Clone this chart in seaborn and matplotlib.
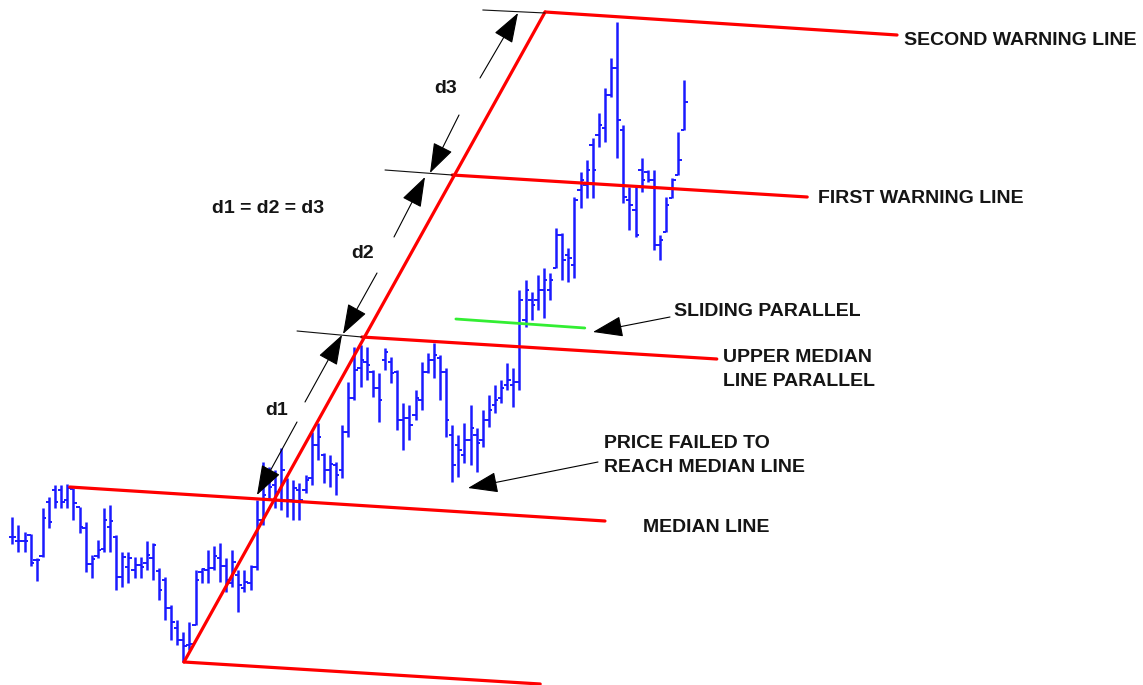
import numpy as np
import pandas as pd
import seaborn as sns
import matplotlib.pyplot as plt

# OHLC bars, one per bar index (price units)
high = [183, 175, 168, 166, 142, 192, 203, 215, 215, 216, 212, 193, 178, 145, 160, 192, 195, 165, 148, 148,
        143, 143, 159, 157, 132, 123, 95, 80, 68, 78, 130, 132, 150, 154, 157, 142, 150, 130, 130, 135,
        200, 238, 233, 230, 252, 222, 220, 217, 225, 268, 277, 247, 245, 238, 275, 318, 353, 355, 353, 330,
        327, 352, 343, 330, 297, 295, 310, 338, 347, 357, 345, 332, 275, 265, 277, 295, 272, 290, 305, 315,
        320, 337, 332, 410, 420, 408, 425, 432, 427, 472, 467, 452, 503, 528, 540, 562, 587, 612, 642, 678,
        575, 513, 513, 542, 530, 530, 465, 503, 522, 568, 620]
low = [156, 148, 148, 134, 119, 143, 172, 192, 192, 192, 180, 167, 128, 122, 142, 148, 148, 110, 113, 117,
       122, 122, 130, 120, 100, 80, 60, 55, 38, 50, 75, 117, 117, 130, 118, 108, 113, 88, 108, 110,
       130, 175, 200, 192, 190, 183, 180, 180, 207, 215, 240, 217, 213, 205, 222, 263, 300, 313, 320, 303,
       278, 330, 317, 270, 250, 260, 280, 290, 327, 322, 300, 263, 218, 223, 237, 235, 228, 253, 273, 287,
       297, 310, 293, 310, 373, 380, 390, 382, 400, 432, 420, 418, 422, 492, 502, 502, 553, 558, 603, 542,
       497, 470, 463, 508, 518, 450, 440, 468, 502, 525, 570]
opens = [163, 159, 159, 165, 140, 144, 198, 210, 210, 200, 211, 193, 172, 136, 144, 151, 173, 163, 123, 133,
         130, 135, 137, 142, 129, 120, 92, 72, 60, 55, 75, 128, 130, 132, 142, 134, 117, 125, 112, 117,
         133, 180, 220, 215, 210, 220, 200, 210, 210, 222, 255, 245, 230, 235, 230, 268, 302, 332, 338, 328,
         312, 340, 338, 328, 280, 282, 285, 300, 328, 340, 342, 328, 265, 255, 245, 260, 265, 260, 280, 295,
         302, 315, 315, 318, 380, 400, 400, 410, 410, 432, 465, 445, 435, 510, 515, 555, 565, 572, 605, 632,
         570, 500, 490, 530, 528, 520, 455, 468, 502, 525, 570]
close = [163, 159, 159, 137, 140, 182, 178, 198, 198, 212, 197, 173, 136, 141, 150, 180, 179, 123, 143, 142,
         135, 133, 145, 155, 110, 92, 78, 60, 54, 56, 120, 131, 132, 144, 134, 120, 138, 115, 118, 133,
         180, 205, 213, 208, 230, 200, 212, 200, 220, 255, 263, 230, 236, 225, 268, 302, 330, 340, 335, 312,
         300, 348, 327, 280, 282, 275, 302, 328, 340, 345, 328, 280, 235, 250, 260, 272, 257, 280, 290, 300,
         312, 320, 318, 400, 410, 395, 410, 420, 420, 465, 440, 442, 500, 520, 530, 530, 575, 605, 632, 580,
         503, 495, 465, 520, 520, 455, 460, 495, 520, 540, 598]

# pitchfork: handle, lower line, median line, upper median parallel, warning lines
fork_names = ['handle', 'lower', 'median', 'upper median', 'first warning', 'second warning']
fork_x0 = [28.1, 28.1, 9.4, 57.2, 72.0, 87.2]
fork_y0 = [38, 38, 213, 363, 525, 688]
fork_x1 = [87.2, 86.4, 97.0, 115.3, 130.1, 144.8]
fork_y1 = [688, 16, 179, 341, 503, 665]

# sliding parallel
slide_x = [72.6, 93.7]
slide_y = [381, 372]

# thin black extensions of the parallels left of the handle
ext_x0 = [46.6, 61.0, 77.0]
ext_y0 = [369, 530, 690]
ext_x1 = [57.2, 72.0, 87.2]
ext_y1 = [363, 525, 687]


def spot(x, y):
    # picture position (pixels from top left) -> bar / price coordinates
    return (x - 12.3) / 6.11, 700 - y


sns.set_theme(style="white")
plt.rcParams['font.family'] = ['Liberation Sans', 'DejaVu Sans']

fig = plt.figure(figsize=(11.43, 6.85), dpi=100)
ax = fig.add_axes([0, 0, 1, 1])

# price bars
idx = np.arange(len(high))
blue = '#1a1aff'
ax.vlines(idx, low, high, color=blue, lw=1.8)
ax.hlines(opens, idx - 0.55, idx, color=blue, lw=1.4)
ax.hlines(close, idx, idx + 0.55, color=blue, lw=1.4)

# red pitchfork lines through seaborn
rows = []
for n, a, b, c, d in zip(fork_names, fork_x0, fork_y0, fork_x1, fork_y1):
    rows.append({'line': n, 'x': a, 'price': b})
    rows.append({'line': n, 'x': c, 'price': d})
fork_df = pd.DataFrame(rows)
sns.lineplot(data=fork_df, x='x', y='price', units='line', estimator=None,
             color='#ff0000', lw=2.3, ax=ax, sort=False)
sns.lineplot(x=slide_x, y=slide_y, color='#33ee33', lw=2.0, ax=ax)

for a, b, c, d in zip(ext_x0, ext_y0, ext_x1, ext_y1):
    ax.plot([a, c], [b, d], color='#111111', lw=0.8)

# dimension arrows d1, d2, d3
arrow_kw = dict(arrowstyle='-|>,head_length=0.95,head_width=0.33', color='black',
                lw=0.8, shrinkA=0, shrinkB=0, mutation_scale=20)
dims = [
    ('d1', (277, 410), (297, 422), (257, 495), (305, 402), (342, 335)),
    ('d2', (363, 253), (377, 273), (343, 334), (394, 237), (425, 177)),
    ('d3', (446, 88), (459, 115), (430, 173), (480, 78), (518, 13)),
]
txt_kw = dict(fontsize=14, fontweight='bold', color='#151515')
for lab, pos, lo_from, lo_tip, up_from, up_tip in dims:
    ax.annotate('', xy=spot(*lo_tip), xytext=spot(*lo_from), arrowprops=arrow_kw)
    ax.annotate('', xy=spot(*up_tip), xytext=spot(*up_from), arrowprops=arrow_kw)
    ax.text(*spot(*pos), lab, ha='center', va='center', **txt_kw)

ax.text(*spot(212, 208), 'd1 = d2 = d3', ha='left', va='center', **txt_kw)

# pointer arrows
ax.annotate('', xy=spot(593, 332), xytext=spot(670, 317), arrowprops=arrow_kw)
ax.annotate('', xy=spot(468, 488), xytext=spot(598, 462), arrowprops=arrow_kw)

labels = [
    ('SECOND WARNING LINE', 904, 40),
    ('FIRST WARNING LINE', 818, 198),
    ('SLIDING PARALLEL', 674, 311),
    ('UPPER MEDIAN', 723, 357),
    ('LINE PARALLEL', 723, 381),
    ('PRICE FAILED TO', 604, 444),
    ('REACH MEDIAN LINE', 604, 468),
    ('MEDIAN LINE', 643, 527),
]
for s, x, y in labels:
    ax.text(*spot(x, y), s, ha='left', va='center', **txt_kw)

ax.set_xlim(-12.3 / 6.11, (1143 - 12.3) / 6.11)
ax.set_ylim(15, 700)
ax.axis('off')

fig.savefig('out.png', dpi=100, facecolor='white')
